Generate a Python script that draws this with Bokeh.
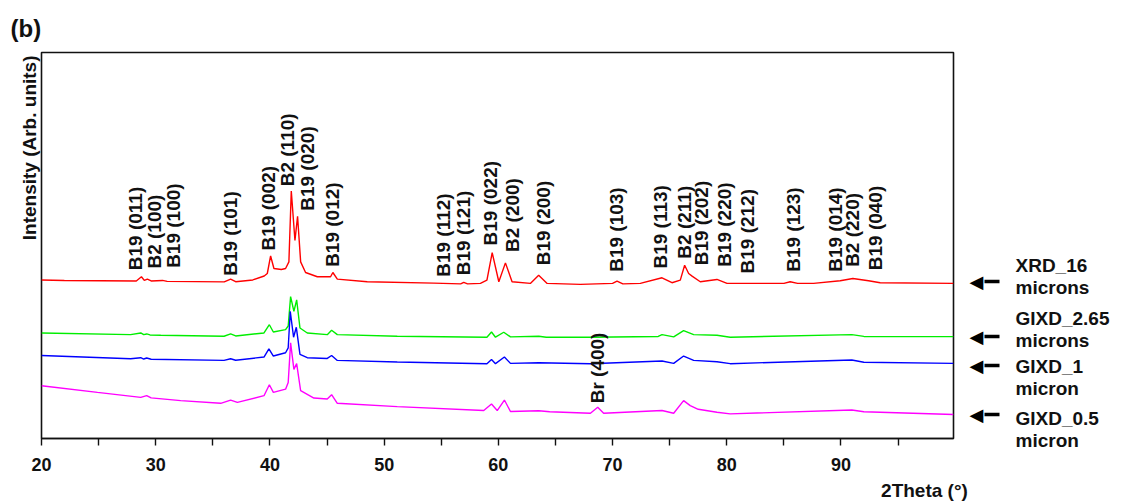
import math
from bokeh.plotting import figure
from bokeh.models import Range1d, FixedTicker, Label, LinearAxis, Title
from bokeh.embed import file_html
from bokeh.resources import INLINE

# ---------------- data (2Theta in degrees, intensity in arbitrary units) ----------------
xrd16_x = [20.0, 22.0, 25.2, 28.3, 28.75, 29.0, 29.27, 29.6, 30.6, 31.0, 36.0, 36.56, 37.0,
           38.5, 39.5, 39.77, 40.06, 40.35, 41.0, 41.37, 41.66, 41.87, 42.19, 42.42, 42.69,
           43.12, 44.15, 45.31, 45.51, 45.9, 48.52, 54.35, 56.7, 56.97, 57.3, 58.43, 59.0,
           59.46, 60.04, 60.62, 61.2, 62.8, 63.53, 64.27, 67.18, 70.0, 70.39, 70.9, 72.43,
           74.33, 75.2, 75.93, 76.31, 76.66, 76.96, 77.68, 79.14, 80.02, 85.0, 85.55, 86.2,
           87.6, 89.93, 91.04, 92.41, 93.43, 99.85]
xrd16_y = [160.0, 159.5, 159.2, 159.0, 163.2, 159.5, 160.8, 159.0, 159.5, 158.5, 158.0, 160.8, 158.2,
           160.0, 164.0, 166.5, 184.2, 171.5, 170.5, 171.5, 178.2, 249.8, 199.8, 224.2, 178.2,
           167.5, 163.2, 163.2, 167.5, 160.8, 158.2, 156.8, 156.0, 157.5, 156.0, 156.5, 159.8,
           187.5, 158.2, 177.2, 158.2, 156.5, 164.8, 156.5, 155.5, 156.5, 158.8, 156.0, 156.5,
           162.2, 157.2, 159.8, 174.8, 166.5, 163.8, 158.2, 160.5, 156.5, 156.5, 158.2, 156.5,
           156.5, 159.2, 161.5, 159.2, 157.2, 156.5]

gixd265_x = [20.0, 27.8, 28.69, 28.95, 29.21, 29.5, 30.44, 35.98, 36.56, 37.0, 39.48, 39.95, 40.3,
             41.37, 41.6, 41.81, 42.1, 42.34, 42.63, 43.27, 45.02, 45.4, 45.9, 51.15, 59.0, 59.4,
             59.75, 60.47, 61.06, 63.54, 64.2, 68.06, 74.0, 74.33, 75.35, 76.22, 77.1, 79.14,
             80.3, 90.95, 92.0, 99.85]
gixd265_y = [106.5, 104.8, 106.5, 104.8, 105.5, 104.5, 104.2, 103.2, 105.5, 103.5, 106.5, 114.8, 107.5,
             109.8, 113.5, 143.2, 128.2, 139.8, 111.5, 106.5, 104.8, 109.2, 104.8, 103.2, 102.2, 107.5,
             102.2, 107.2, 102.5, 103.2, 102.2, 102.2, 103.0, 104.8, 102.5, 108.8, 104.8, 104.2,
             102.2, 104.8, 103.0, 102.8]

gixd1_x = [20.0, 27.8, 28.69, 28.95, 29.21, 29.6, 35.98, 36.56, 37.0, 39.48, 39.91, 40.3, 41.37,
           41.6, 41.78, 42.07, 42.31, 42.63, 43.27, 45.02, 45.4, 45.9, 51.15, 59.0, 59.4, 59.75,
           60.53, 61.06, 63.54, 68.06, 74.33, 75.35, 76.22, 77.1, 79.14, 80.3, 90.95, 92.0, 99.85]
gixd1_y = [83.8, 80.5, 81.5, 80.2, 81.2, 80.0, 78.8, 80.5, 79.0, 82.2, 90.5, 83.2, 86.5,
           91.5, 128.2, 102.2, 112.2, 84.8, 81.5, 80.8, 83.8, 78.8, 77.2, 75.5, 79.8, 75.5,
           82.2, 75.8, 76.5, 75.5, 78.2, 75.8, 83.2, 78.8, 77.5, 75.5, 79.2, 77.0, 75.8]

gixd05_x = [20.0, 24.9, 28.69, 29.21, 29.6, 32.19, 35.69, 36.56, 37.15, 39.48, 39.95, 40.3, 41.37,
            41.6, 41.81, 42.1, 42.34, 42.69, 43.85, 45.02, 45.4, 45.9, 51.15, 58.72, 59.4, 59.9,
            60.53, 61.06, 63.54, 64.5, 68.06, 68.7, 69.22, 74.33, 75.35, 76.22, 76.8, 77.5,
            79.14, 80.3, 90.95, 92.0, 99.85]
gixd05_y = [53.2, 46.5, 41.5, 43.2, 41.0, 38.2, 35.5, 38.8, 36.5, 43.2, 54.2, 46.5, 49.8,
            56.5, 96.5, 69.8, 75.5, 48.2, 40.8, 39.8, 44.2, 35.5, 32.2, 28.2, 34.8, 28.2,
            38.8, 27.2, 28.0, 27.0, 25.5, 31.5, 25.5, 28.2, 25.5, 38.2, 33.2, 29.5,
            26.5, 24.8, 28.8, 27.0, 24.2]

# peak labels: text, 2Theta, intensity where the label starts
peak_labels = ["B19 (011)", "B2 (100)", "B19 (100)", "B19 (101)", "B19 (002)", "B2 (110)",
               "B19 (020)", "B19 (012)", "B19 (112)", "B19 (121)", "B19 (022)", "B2 (200)",
               "B19 (200)", "B19 (103)", "B19 (113)", "B2 (211)", "B19 (202)", "B19 (220)",
               "B19 (212)", "B19 (123)", "B19 (014)", "B2 (220)", "B19 (040)", "Br (400)"]
peak_x = [28.26, 29.85, 31.6, 36.56, 39.91, 41.58, 43.27, 45.46, 55.22, 56.97, 59.31, 61.2,
          63.97, 70.33, 74.18, 76.28, 77.82, 79.78, 81.77, 85.85, 89.5, 91.05, 93.0, 68.64]
peak_y = [169.8, 171.5, 172.2, 164.2, 189.8, 254.5, 229.8, 173.2, 163.2, 164.8, 194.8, 188.2,
          174.8, 168.2, 171.5, 181.5, 174.8, 173.2, 166.5, 168.2, 168.2, 173.2, 169.8, 35.5]

series_names = ["XRD_16\nmicrons", "GIXD_2.65\nmicrons", "GIXD_1\nmicron", "GIXD_0.5\nmicron"]
series_colors = ["#ff0000", "#00ee00", "#0000ff", "#ff00ff"]
legend_text_y = [163.15, 110.35, 62.0, 8.75]
arrow_y = [158.2, 103.2, 73.8, 23.8]

x_ticks = [20, 30, 40, 50, 60, 70, 80, 90]
x_minor = [25, 35, 45, 55, 65, 75, 85, 95]

FONT = "Liberation Sans"
INK = "#111111"

p = figure(width=1122, height=503, output_backend="svg", toolbar_location=None,
           x_range=Range1d(20, 99.85), y_range=Range1d(0, 389.5),
           min_border_left=41, min_border_right=169, min_border_top=52, min_border_bottom=62)
p.background_fill_color = "white"
p.border_fill_color = "white"
p.grid.visible = False
p.outline_line_color = INK
p.outline_line_width = 1.6
p.outline_line_alpha = 1.0
p.yaxis.visible = False

# panel letter
p.title = Title(text="(b)", align="left", offset=-31, text_font=FONT, text_font_style="bold",
                text_font_size="24px", text_color=INK, standoff=22)

# y-axis caption, placed at the top of the left side
p.add_layout(Title(text="Intensity (Arb. units)", align="right", offset=3,
                   vertical_align="bottom", standoff=4, text_font=FONT,
                   text_font_style="bold", text_font_size="19px", text_color=INK), "left")

ax = p.xaxis[0]
ax.ticker = FixedTicker(ticks=x_ticks, minor_ticks=x_minor)
ax.axis_line_color = INK
ax.axis_line_width = 1.6
ax.major_tick_out = 7
ax.major_tick_in = 0
ax.minor_tick_out = 7
ax.minor_tick_in = 0
ax.major_tick_line_width = 1.4
ax.minor_tick_line_width = 1.4
ax.major_tick_line_color = INK
ax.minor_tick_line_color = INK
ax.major_label_text_font = FONT
ax.major_label_text_font_style = "bold"
ax.major_label_text_font_size = "18px"
ax.major_label_text_color = INK
ax.major_label_standoff = 12
ax.axis_label = "2Theta (\u00b0)" + "\u00a0" * 11
ax.axis_label_text_font = FONT
ax.axis_label_text_font_style = "bold"
ax.axis_label_text_font_size = "19px"
ax.axis_label_text_color = INK
ax.axis_label_standoff = 6
try:
    ax.axis_label_align = "end"
except Exception:
    pass

for xs, ys, c in [(xrd16_x, xrd16_y, series_colors[0]), (gixd265_x, gixd265_y, series_colors[1]),
                  (gixd1_x, gixd1_y, series_colors[2]), (gixd05_x, gixd05_y, series_colors[3])]:
    p.line(xs, ys, line_color=c, line_width=1.4)

for t, xv, yv in zip(peak_labels, peak_x, peak_y):
    p.add_layout(Label(x=xv, y=yv, text=t, angle=math.pi / 2, text_align="left",
                       text_baseline="middle", text_font=FONT, text_font_style="bold",
                       text_font_size="19px", text_color=INK))

# arrow heads (first right-hand axis, next to the frame)
heads = LinearAxis(ticker=FixedTicker(ticks=arrow_y, minor_ticks=[]),
                   major_label_overrides={v: "\u25c0" for v in arrow_y})
heads.axis_line_color = None
heads.major_tick_out = 0
heads.major_tick_in = 0
heads.major_tick_line_color = None
heads.minor_tick_line_color = None
heads.major_label_standoff = 16
heads.major_label_text_font = "DejaVu Sans"
heads.major_label_text_font_size = "18px"
heads.major_label_text_color = "black"
p.add_layout(heads, "right")

# arrow shafts (minor ticks) and series names (labels) on the second right-hand axis
leg = LinearAxis(ticker=FixedTicker(ticks=legend_text_y, minor_ticks=arrow_y),
                 major_label_overrides={v: t for v, t in zip(legend_text_y, series_names)})
leg.axis_line_color = None
leg.major_tick_out = 0
leg.major_tick_in = 0
leg.major_tick_line_color = None
leg.minor_tick_in = 2
leg.minor_tick_out = 13
leg.minor_tick_line_width = 3.5
leg.minor_tick_line_color = "black"
leg.major_label_standoff = 16
leg.major_label_text_font = FONT
leg.major_label_text_font_style = "bold"
leg.major_label_text_font_size = "19px"
leg.major_label_text_line_height = 1.05
leg.major_label_text_color = INK
p.add_layout(leg, "right")

open("out.html", "w").write(file_html(p, INLINE))
